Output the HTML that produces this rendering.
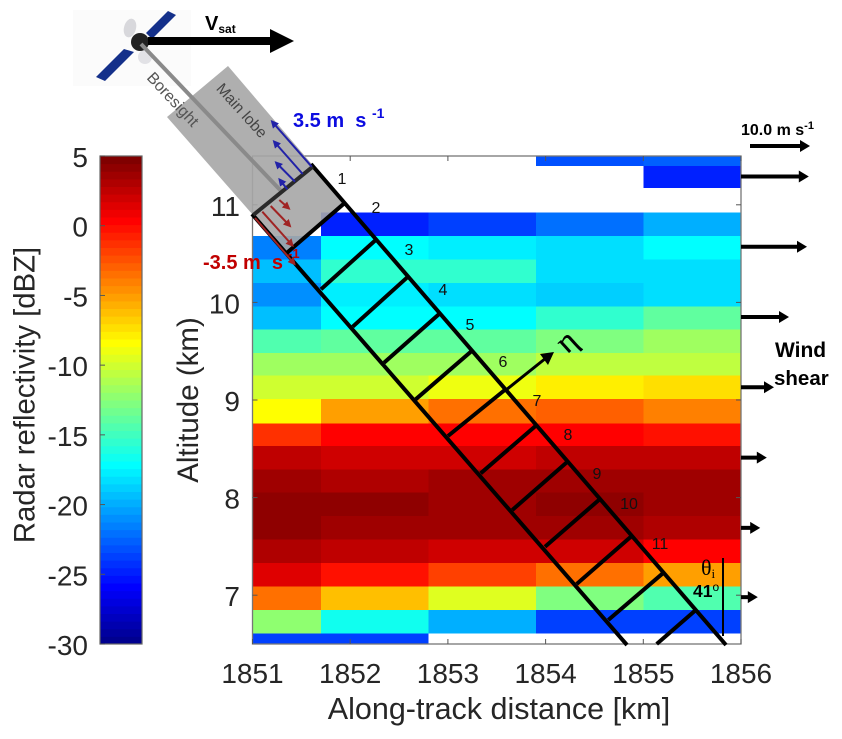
<!DOCTYPE html>
<html>
<head>
<meta charset="utf-8">
<style>
html,body{margin:0;padding:0;background:#fff;}
svg{display:block;font-family:"Liberation Sans",sans-serif;}
</style>
</head>
<body>
<svg id="chart" xmlns="http://www.w3.org/2000/svg" width="842" height="739" viewBox="0 0 842 739">
  <defs>
    <marker id="blue-head" markerWidth="9" markerHeight="10" refX="6" refY="4" orient="auto" markerUnits="userSpaceOnUse"><path d="M0,0 L8,4 L0,8 Z" fill="#2222a8"/></marker>
    <marker id="red-head" markerWidth="9" markerHeight="10" refX="6" refY="4" orient="auto" markerUnits="userSpaceOnUse"><path d="M0,0 L8,4 L0,8 Z" fill="#a02424"/></marker>
  </defs>
  <g id="heatmap"></g>
  <g id="colorbar"></g>
  <g id="axes"></g>

  <g>
    <rect x="73" y="10" width="118" height="76" fill="#fbfbfb"/>
    <polygon points="146,33 168,11 176,15 152,39" fill="#14308a"/>
    <polygon points="96,77 124,49 134,52 105,81" fill="#14308a"/>
    <ellipse cx="130" cy="28" rx="6" ry="9.5" transform="rotate(15 130 28)" fill="#d8d8dc"/>
    <ellipse cx="145" cy="57" rx="7" ry="7" fill="#e2e2e6"/>
    <circle cx="140" cy="42" r="9" fill="#222"/>
  </g>

  <g>
    <rect x="148" y="37" width="124" height="8" fill="#000"/>
    <polygon points="270,29 294,41 270,53" fill="#000"/>
    <text x="205" y="30" font-size="20" font-weight="bold">V<tspan font-size="12" dy="3">sat</tspan></text>
  </g>

  <polygon points="228,66 167,117 253,215 287,253 345,203" fill="#a6a6a6" fill-opacity="0.9"/>
  <line x1="141" y1="44" x2="283" y2="193" stroke="#8a8a8a" stroke-width="4"/>
  <text x="169" y="103" font-size="16" fill="#555" text-anchor="middle" transform="rotate(47 169 103)">Boresight</text>
  <text x="238" y="114" font-size="15.5" fill="#444" text-anchor="middle" transform="rotate(48 238 114)">Main lobe</text>

  <g stroke="#000" stroke-width="4" fill="none">
    <line x1="311" y1="164" x2="726" y2="645"/>
    <line x1="252" y1="214" x2="627" y2="645"/>
    <line x1="253.3" y1="215" x2="312.7" y2="166.7" stroke="#2a2a2a"/>
    <line x1="286.7" y1="253" x2="344.3" y2="203.3"/>
    <line x1="321" y1="289.3" x2="375.7" y2="240"/>
    <line x1="352.7" y1="326.7" x2="407.3" y2="277.3"/>
    <line x1="384" y1="362.7" x2="440" y2="313.3"/>
    <line x1="415.7" y1="399.3" x2="471.7" y2="351"/>
    <line x1="448" y1="436" x2="506" y2="389"/>
    <line x1="480.7" y1="473.3" x2="536.7" y2="425"/>
    <line x1="512.3" y1="510" x2="568.3" y2="461"/>
    <line x1="545" y1="546.7" x2="600" y2="499"/>
    <line x1="576.7" y1="584" x2="631.7" y2="536"/>
    <line x1="608.3" y1="620" x2="664" y2="572.3"/>
    <line x1="656.7" y1="644" x2="696.7" y2="609.3"/>
  </g>

  <g stroke="#2222a8" stroke-width="2" fill="none">
    <line x1="311.7" y1="166.7" x2="272" y2="121.5" marker-end="url(#blue-head)"/>
    <line x1="302.7" y1="174" x2="274" y2="141.5" marker-end="url(#blue-head)"/>
    <line x1="295" y1="181.7" x2="276" y2="162.5" marker-end="url(#blue-head)"/>
    <line x1="287.3" y1="189.3" x2="279.5" y2="179.5" marker-end="url(#blue-head)"/>
  </g>
  <g stroke="#a02424" stroke-width="2" fill="none">
    <line x1="279.3" y1="200" x2="289" y2="208.5" marker-end="url(#red-head)"/>
    <line x1="270.7" y1="206" x2="290" y2="226" marker-end="url(#red-head)"/>
    <line x1="262.3" y1="211.7" x2="292.5" y2="245.5" marker-end="url(#red-head)"/>
    <line x1="255" y1="218" x2="294.5" y2="264" marker-end="url(#red-head)"/>
  </g>

  <text x="293" y="127" font-size="20" font-weight="bold" fill="#0c0ce0" xml:space="preserve">3.5 m  s <tspan font-size="14" dy="-9">-1</tspan></text>
  <text x="203" y="269" font-size="20" font-weight="bold" fill="#c00000" xml:space="preserve">-3.5 m  s<tspan font-size="13" dy="-11" dx="5">-1</tspan></text>

  <g font-size="16" fill="#111" text-anchor="middle">
    <text x="342" y="184">1</text>
    <text x="376" y="213">2</text>
    <text x="409" y="255">3</text>
    <text x="443" y="295">4</text>
    <text x="470" y="330">5</text>
    <text x="503" y="367">6</text>
    <text x="537" y="406">7</text>
    <text x="568" y="440">8</text>
    <text x="597" y="479">9</text>
    <text x="629" y="509">10</text>
    <text x="660" y="549">11</text>
  </g>

  <g>
    <line x1="506" y1="390" x2="546" y2="358" stroke="#000" stroke-width="3"/>
    <polygon points="554,352 548,365 540,354" fill="#000"/>
    <text x="568" y="351" font-size="32" text-anchor="middle" font-family="'Liberation Serif',serif" stroke="#000" stroke-width="0.4" transform="rotate(-42 568 343)">η</text>
  </g>

  <g>
    <line x1="723" y1="558" x2="723" y2="636" stroke="#000" stroke-width="2"/>
    <text x="701" y="575" font-size="22" font-family="'Liberation Serif',serif">θ<tspan font-size="13" dy="3">i</tspan></text>
    <text x="693" y="597" font-size="17.5" font-weight="bold">41<tspan font-size="12" dy="-6" font-weight="normal">o</tspan></text>
  </g>

  <g id="wind"></g>
  <text x="741" y="135" font-size="16" font-weight="bold">10.0 m s<tspan font-size="11" dy="-6">-1</tspan></text>
  <text x="775" y="357" font-size="21" font-weight="bold">Wind</text>
  <text x="774" y="385" font-size="20.5" font-weight="bold">shear</text>

  <text x="499" y="719" font-size="30.5" fill="#262626" text-anchor="middle">Along-track distance [km]</text>
  <text x="198" y="400" font-size="29.5" fill="#262626" text-anchor="middle" transform="rotate(-90 198 400)">Altitude (km)</text>
  <text x="34.5" y="395" font-size="29.3" fill="#262626" text-anchor="middle" transform="rotate(-90 34.5 395)">Radar reflectivity [dBZ]</text>
</svg>
<script>
// Data
const distanceEdges = [1851, 1851.7, 1852.8, 1853.9, 1855.0, 1856];
const altitudeEdges = [11.5, 11.40, 11.17, 10.92, 10.68, 10.44, 10.20, 9.96, 9.72, 9.48, 9.25, 9.01, 8.76, 8.53, 8.29, 8.05, 7.81, 7.57, 7.33, 7.09, 6.85, 6.61, 6.5];
const reflectivityColumn1 = [null, null, null, null, -21.2, -19.1, -20.5, -19.1, -14.1, -11.4, -9.7, -8.1, -1.0, 2.8, 3.9, 4.4, 4.4, 3.3, 1.7, -3.2, -12.0, -23.4];
const reflectivityColumn2 = [null, null, null, -24.5, -16.9, -15.5, -17.4, -16.9, -13.6, -11.4, -9.7, -4.9, 0.6, 2.2, 3.3, 4.4, 3.9, 2.8, 0.1, -6.0, -16.3, -23.4];
const reflectivityColumn3 = [null, null, null, -23.4, -17.4, -15.5, -18.1, -16.9, -13.6, -11.4, -8.6, -3.2, 0.6, 2.2, 3.9, 3.9, 3.9, 2.5, -1.6, -9.2, -19.6, null];
const reflectivityColumn4 = [-22.9, null, null, -21.8, -17.7, -18.1, -18.6, -15.5, -12.5, -10.4, -7.6, -2.7, 0.6, 2.8, 3.9, 4.4, 3.9, 2.2, -3.2, -12.5, -23.4, null];
const reflectivityColumn5 = [-22.3, -24.5, null, -19.8, -16.9, -18.1, -18.1, -13.6, -11.4, -10.4, -6.9, -3.8, 0.1, 2.8, 3.9, 3.9, 3.3, 0.6, -4.9, -14.1, -23.4, null];
const xTicks = [1851, 1852, 1853, 1854, 1855, 1856];
const yTicks = [7, 8, 9, 10, 11];
const colorbarTicks = [5, 0, -5, -10, -15, -20, -25, -30];
const windAltitudes = [11.29, 10.57, 9.85, 9.13, 8.41, 7.69, 6.98];
const windSpeeds = [11.3, 11.0, 8.0, 5.5, 4.3, 3.2, 2.8];
const windReferenceSpeed = [10.0];

const NS = 'http://www.w3.org/2000/svg';
const plot = {left: 252.5, right: 741, top: 156, bottom: 644};
const xDomain = [1851, 1856];
const yDomain = [6.5, 11.5];
const cDomain = [-30, 5];
const bar = {left: 100, right: 142, top: 156, bottom: 644};
const LEVELS = 64;
const WIND_PX_PER_MS = 6;

function xScale(v) { return plot.left + (v - xDomain[0]) / (xDomain[1] - xDomain[0]) * (plot.right - plot.left); }
function yScale(v) { return plot.bottom - (v - yDomain[0]) / (yDomain[1] - yDomain[0]) * (plot.bottom - plot.top); }
function barScale(v) { return bar.bottom - (v - cDomain[0]) / (cDomain[1] - cDomain[0]) * (bar.bottom - bar.top); }
function clip(v) { return Math.max(0, Math.min(1, v)); }
function jet(t) {
  const r = clip(1.5 - Math.abs(4 * t - 3));
  const g = clip(1.5 - Math.abs(4 * t - 2));
  const b = clip(1.5 - Math.abs(4 * t - 1));
  return 'rgb(' + Math.round(r * 255) + ',' + Math.round(g * 255) + ',' + Math.round(b * 255) + ')';
}
function colorFor(v) {
  const t = (v - cDomain[0]) / (cDomain[1] - cDomain[0]);
  const level = Math.max(1, Math.min(LEVELS, Math.round(t * LEVELS)));
  return jet(level / LEVELS);
}
function make(tag, parent, attrs) {
  const el = document.createElementNS(NS, tag);
  for (const k in attrs) el.setAttribute(k, attrs[k]);
  parent.appendChild(el);
  return el;
}

// Heatmap
const heatmapGroup = document.getElementById('heatmap');
const reflectivityColumns = [reflectivityColumn1, reflectivityColumn2, reflectivityColumn3, reflectivityColumn4, reflectivityColumn5];
reflectivityColumns.forEach(function (column, c) {
  column.forEach(function (value, r) {
    if (value === null) return;
    const x0 = xScale(distanceEdges[c]);
    const x1 = xScale(distanceEdges[c + 1]);
    const y0 = yScale(altitudeEdges[r]);
    const y1 = yScale(altitudeEdges[r + 1]);
    const cell = make('rect', heatmapGroup, {x: x0, y: y0, width: x1 - x0, height: y1 - y0, fill: colorFor(value), 'shape-rendering': 'crispEdges'});
    
    
  });
});

// Axes
const axesGroup = document.getElementById('axes');
const axisFrame = make('rect', axesGroup, {x: plot.left, y: plot.top, width: plot.right - plot.left, height: plot.bottom - plot.top, fill: 'none', stroke: '#777', 'stroke-width': 1.3});


xTicks.forEach(function (v) {
  const x = xScale(v);
  const tick = make('line', axesGroup, {x1: x, x2: x, y1: plot.bottom, y2: plot.bottom - 5, stroke: '#555'});
  
  
  const topTick = make('line', axesGroup, {x1: x, x2: x, y1: plot.top, y2: plot.top + 5, stroke: '#555'});
  
  
  const label = make('text', axesGroup, {x: x, y: 683, 'font-size': 28, fill: '#262626', 'text-anchor': 'middle'});
  
  
  label.textContent = v;
});
yTicks.forEach(function (v) {
  const y = yScale(v);
  const tick = make('line', axesGroup, {x1: plot.left, x2: plot.left + 5, y1: y, y2: y, stroke: '#555'});
  
  
  const rightTick = make('line', axesGroup, {x1: plot.right, x2: plot.right - 5, y1: y, y2: y, stroke: '#555'});
  
  
  const label = make('text', axesGroup, {x: 240, y: y + 11, 'font-size': 28, fill: '#262626', 'text-anchor': 'end'});
  
  
  label.textContent = v;
});

// Colorbar
const colorbarGroup = document.getElementById('colorbar');
const stepH = (bar.bottom - bar.top) / LEVELS;
for (let i = 1; i <= LEVELS; i++) {
  const step = make('rect', colorbarGroup, {x: bar.left, y: bar.bottom - i * stepH, width: bar.right - bar.left, height: stepH + 0.5, fill: jet(i / LEVELS)});
  
  
}
const barFrame = make('rect', colorbarGroup, {x: bar.left, y: bar.top, width: bar.right - bar.left, height: bar.bottom - bar.top, fill: 'none', stroke: '#666', 'stroke-width': 1.2});


colorbarTicks.forEach(function (v) {
  const y = barScale(v);
  const tick = make('line', colorbarGroup, {x1: bar.left, x2: bar.left + 5, y1: y, y2: y, stroke: '#555'});
  
  
  const label = make('text', colorbarGroup, {x: 88, y: y + 11, 'font-size': 28, fill: '#262626', 'text-anchor': 'end'});
  
  
  label.textContent = v;
});

// Wind arrows
const windGroup = document.getElementById('wind');
function drawWind(x0, y, speed, name) {
  const tip = x0 + speed * WIND_PX_PER_MS;
  const shaft = make('line', windGroup, {x1: x0, x2: tip - 9, y1: y, y2: y, stroke: '#000', 'stroke-width': 4});
  
  
  const head = make('polygon', windGroup, {points: (tip - 10) + ',' + (y - 6) + ' ' + tip + ',' + y + ' ' + (tip - 10) + ',' + (y + 6), fill: '#000'});
  
  
}
windAltitudes.forEach(function (alt, i) {
  drawWind(plot.right, yScale(alt), windSpeeds[i], 'wind-arrow');
});
drawWind(750, 146, windReferenceSpeed[0], 'wind-scale-arrow');
</script>
</body>
</html>
